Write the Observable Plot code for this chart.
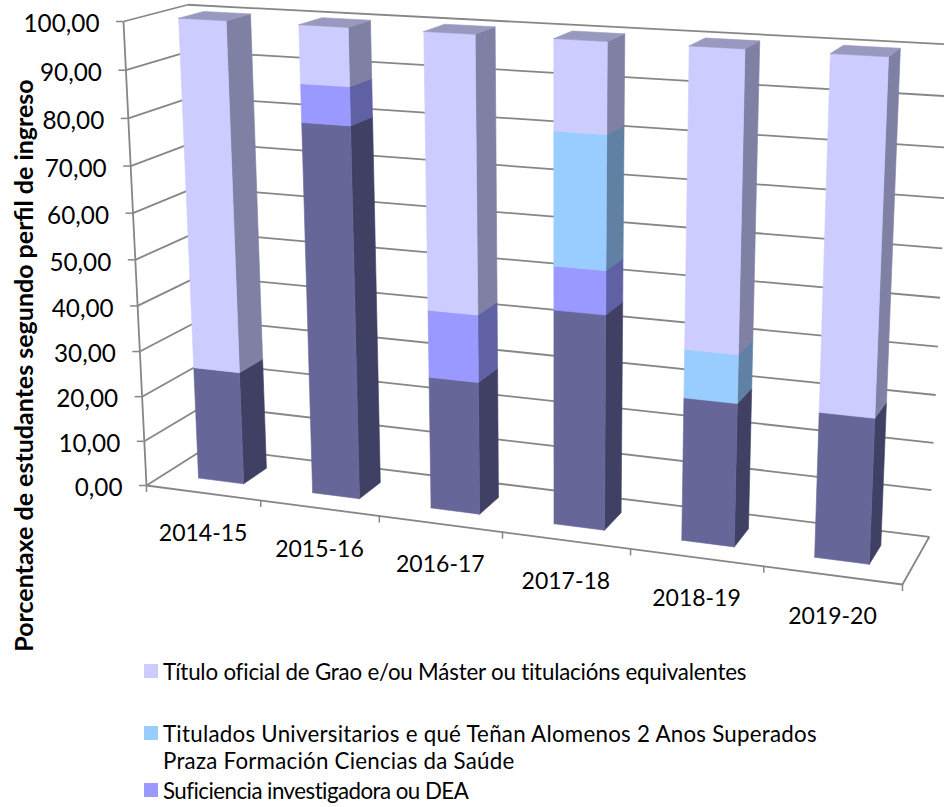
<!DOCTYPE html>
<html lang="gl">
<head>
<meta charset="utf-8">
<script src="https://cdn.jsdelivr.net/npm/d3@7"></script>
<script src="https://cdn.jsdelivr.net/npm/@observablehq/plot@0.6"></script>
<style>
html,body{margin:0;padding:0;background:#fff;width:944px;height:807px;overflow:hidden;font-family:Lato,"Open Sans",sans-serif;color:#000}
#chart{position:absolute;left:0;top:0}
#legend{position:absolute;left:0;top:0;width:944px;height:807px;pointer-events:none;font-size:22.3px;line-height:27px}
.sw{position:absolute;width:14px;height:14px}
.lb{position:absolute;left:163px;white-space:pre}
</style>
</head>
<body>
<div id="chart"></div>
<div id="legend"></div>
<script>
const categories = ["2014-15","2015-16","2016-17","2017-18","2018-19","2019-20"];
const doutoramento = [25.00,80.00,28.57,45.45,30.00,30.00];
const suficiencia  = [0,8.00,14.29,9.09,0,0];
const titulados    = [0,0,0,27.27,10.00,0];
const oficial      = [75.00,12.00,57.14,18.18,60.00,70.00];
const valueTicks = [0,10,20,30,40,50,60,70,80,90,100];
const axisTitle = "Porcentaxe de estudantes segundo perfil de ingreso";
const seriesList = [
  {values:doutoramento, front:"#666699", side:"#404064", top:"#8080A8"},
  {values:suficiencia,  front:"#9999FF", side:"#6060A4", top:"#7878C8"},
  {values:titulados,    front:"#99CCFF", side:"#6080A4", top:"#78A0C8"},
  {values:oficial,      front:"#CCCCFF", side:"#8080A4", top:"#9999C0"}
];
const legendItems = [
  {lines:["Título oficial de Grao e/ou Máster ou titulacións equivalentes"], spacing:[-0.19], color:"#CCCCFF", y:671},
  {lines:["Titulados Universitarios e qué Teñan Alomenos 2 Anos Superados","Praza Formación Ciencias da Saúde"], spacing:[0.26,0.24], color:"#99CCFF", y:733},
  {lines:["Suficiencia investigadora ou DEA"], spacing:[-0.53], color:"#9999FF", y:790}
];

// Perspective of the Excel 3-D box (u: categories, v: value, d: depth)
const O=[146,485], U=[902,584], V=[123,21], D=[206,447];
const wu=0.89, wv=0.947, wd=1.05;
function project(u,v,d){
  const w0=1-u-v-d, w=w0+wu*u+wv*v+wd*d;
  return [0,1].map(i=>(w0*O[i]+wu*u*U[i]+wv*v*V[i]+wd*d*D[i])/w);
}
const n=categories.length;
const gapShare=0.4, d0=0.3, d1=0.7;

const polys=[];
function poly(pts,fill){const id=polys.length?polys[polys.length-1].id+1:0;
  [...pts,pts[0]].forEach(p=>{const [x,y]=project(...p);polys.push({id,x,y,fill});});}
categories.forEach((c,i)=>{
  const u0=(i+0.5-gapShare/2)/n,u1=(i+0.5+gapShare/2)/n;
  let base=0;
  const visible=seriesList.filter(s=>s.values[i]>0);
  visible.forEach((s,k)=>{
    const v0=base/100,v1=(base+s.values[i])/100;
    poly([[u1,v0,d0],[u1,v0,d1],[u1,v1,d1],[u1,v1,d0]],s.side);
    poly([[u0,v0,d0],[u1,v0,d0],[u1,v1,d0],[u0,v1,d0]],s.front);
    if(k===visible.length-1) poly([[u0,v1,d0],[u1,v1,d0],[u1,v1,d1],[u0,v1,d1]],s.top);
    base+=s.values[i];
  });
});

function seg(a,b){const [x1,y1]=project(...a),[x2,y2]=project(...b);return {x1,y1,x2,y2};}
const gridSegs=[];
valueTicks.forEach(t=>{const v=t/100;
  gridSegs.push(seg([0,v,0],[0,v,1]));
  gridSegs.push(seg([0,v,1],[1,v,1]));
});
gridSegs.push(seg([0,0,0],[0,1,0]));
gridSegs.push(seg([0,0,0],[1,0,0]));
gridSegs.push(seg([1,0,0],[1,0,1]));
const yTicks=valueTicks.map(t=>{const [x,y]=project(0,t/100,0);return {t,x,y};});
const xTicks=d3.range(n+1).map(k=>{const [x,y]=project(k/n,0,0);return {x,y};});
const xLabels=categories.map((c,i)=>{const [x,y]=project((i+0.5)/n,0,0);return {c,x,y};});
const fmt=t=>t.toFixed(2).replace(".",",");
const axisColor="#868686", font="Lato";

const plot=Plot.plot({
  width:944,height:670,margin:0,
  style:{background:"transparent",overflow:"hidden"},
  x:{domain:[0,944],range:[0,944],axis:null},
  y:{domain:[0,670],range:[0,670],axis:null},
  color:{type:"identity"},
  marks:[
    Plot.link(gridSegs,{x1:"x1",y1:"y1",x2:"x2",y2:"y2",stroke:axisColor,strokeWidth:1.8}),
    Plot.ruleY(yTicks,{y:"y",x1:"x",x2:d=>d.x-7,stroke:axisColor,strokeWidth:1.5}),
    Plot.ruleX(xTicks,{x:"x",y1:"y",y2:d=>d.y+7,stroke:axisColor,strokeWidth:1.5}),
    Plot.line(polys,{x:"x",y:"y",z:"id",fill:"fill",stroke:"fill",strokeWidth:0.6}),
    Plot.text(yTicks,{x:"x",y:"y",text:d=>fmt(d.t),textAnchor:"end",dx:-24,dy:3,fontSize:24.3,fontFamily:font,fill:"#000"}),
    Plot.text(xLabels,{x:"x",y:"y",text:"c",dy:41,fontSize:23,fontFamily:font,fill:"#000"}),
    Plot.text([axisTitle],{frameAnchor:"left",textAnchor:"middle",dx:24,dy:30,rotate:-90,fontSize:25,fontWeight:"bold",fontFamily:font,fill:"#000"})
  ]
});
document.getElementById("chart").append(plot);

const lg=document.getElementById("legend");
legendItems.forEach(it=>{
  const s=document.createElement("div");s.className="sw";s.style.left="144px";s.style.top=(it.y-7)+"px";s.style.background=it.color;lg.append(s);
  it.lines.forEach((line,j)=>{
    const t=document.createElement("div");t.className="lb";t.style.top=(it.y-13.5+27*j)+"px";
    t.style.letterSpacing=it.spacing[j]+"px";t.textContent=line;lg.append(t);
  });
});
</script>
</body>
</html>
